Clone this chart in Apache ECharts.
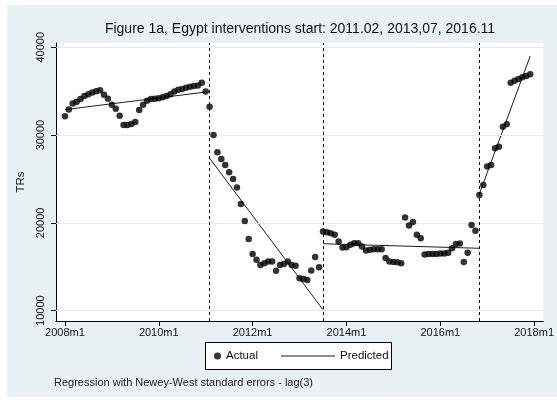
<!DOCTYPE html>
<html>
<head>
<meta charset="utf-8">
<script src="https://cdn.jsdelivr.net/npm/echarts@6/dist/echarts.min.js"></script>
<style>
  html, body { margin: 0; padding: 0; background: #fff; }
  #chart { width: 557px; height: 407px; }
</style>
</head>
<body>
<div id="chart"></div>
<script>
const FONT = 'Liberation Sans, Arial, sans-serif';

// Monthly TRs, one value per month starting 2008m1
const actualPre = [ // 2008m1 – 2011m1
  32150, 32900, 33600, 33800, 34100, 34450, 34650, 34850, 35000, 35100,
  34600, 34150, 33450, 33000, 32200, 31150, 31150, 31250, 31500, 32850,
  33450, 33900, 34100, 34150, 34200, 34300, 34450, 34650, 34950, 35150,
  35250, 35400, 35500, 35600, 35650, 35950, 34950
];
const actualPhase1 = [ // 2011m2 – 2013m6
  33240, 30010, 28040, 27280, 26600, 25770, 25000, 24030, 22150, 20200,
  18150, 16450, 15800, 15200, 15400, 15600, 15600, 14550, 15200, 15300,
  15600, 15200, 15100, 13700, 13600, 13500, 14560, 16100, 14950
];
const actualPhase2 = [ // 2013m7 – 2016m10
  19000, 18940, 18820, 18630, 17870, 17180, 17230, 17490, 17680, 17680,
  17300, 16840, 16920, 17000, 17000, 17000, 15980, 15600, 15550, 15500,
  15400, 20600, 19700, 20100, 18650, 18250, 16400, 16450, 16450, 16450,
  16500, 16500, 16600, 17100, 17600, 17650, 15550, 16600, 19750, 19100
];
const actualPhase3 = [ // 2016m11 – 2017m12
  23180, 24320, 26410, 26600, 28500, 28680, 30960, 31230, 35970, 36200,
  36390, 36580, 36730, 36930
];

// Fitted trend of each regime (month index counted from 2008m1)
const predFromMonth = [0, 37, 66, 106];
const predToMonth   = [36, 66, 106, 119];
const predFromValue = [32900, 27360, 17620, 23300];
const predToValue   = [34900, 10100, 17100, 39000];

// Intervention starts: 2011m2, 2013m7, 2016m11
const interventionMonths = [37, 66, 106];

const xTickMonths = [0, 24, 48, 72, 96, 120];
const xTickLabels = ['2008m1', '2010m1', '2012m1', '2014m1', '2016m1', '2018m1'];
const yTickValues = [10000, 20000, 30000, 40000];

const actual = actualPre.concat(actualPhase1, actualPhase2, actualPhase3);
const actualPoints = actual.map((v, i) => [i, v]);

const predictedSeries = predFromMonth.map((m0, k) => ({
  name: 'Predicted',
  type: 'line',
  data: [[m0, predFromValue[k]], [predToMonth[k], predToValue[k]]],
  symbol: 'none',
  lineStyle: { color: '#1e1e1e', width: 1 },
  itemStyle: { color: '#1e1e1e' },
  z: 4,
  silent: true,
  animation: false
}));

const chart = echarts.init(document.getElementById('chart'), null, { renderer: 'canvas' });

chart.setOption({
  animation: false,
  backgroundColor: '#ffffff',
  textStyle: { fontFamily: FONT },
  graphic: [
    { type: 'rect', shape: { x: 7, y: 5, width: 550, height: 392 },
      style: { fill: '#EAF1F3' }, z: -10, silent: true },
    { type: 'rect', shape: { x: 205.5, y: 342.5, width: 186, height: 27 },
      style: { fill: '#ffffff', stroke: '#000000', lineWidth: 1 }, z: 1, silent: true }
  ],
  title: [
    {
      text: 'Figure 1a, Egypt interventions start: 2011.02, 2013,07, 2016.11',
      left: 300, top: 22, textAlign: 'center', padding: 0,
      textStyle: { fontFamily: FONT, fontSize: 14, fontWeight: 'normal', color: '#111' }
    },
    {
      text: 'Regression with Newey-West standard errors - lag(3)',
      left: 54, top: 377, padding: 0,
      textStyle: { fontFamily: FONT, fontSize: 11, fontWeight: 'normal', color: '#222' }
    }
  ],
  legend: [
    {
      data: [{ name: 'Actual', icon: 'circle' }],
      left: 214, top: 350, padding: 0,
      itemWidth: 7, itemHeight: 7,
      textStyle: { fontFamily: FONT, fontSize: 11.5, color: '#111' },
      selectedMode: false
    },
    {
      data: [{ name: 'Predicted', icon: 'rect', itemStyle: { color: '#1e1e1e' } }],
      left: 281, top: 350, padding: 0,
      itemWidth: 54, itemHeight: 1.2,
      textStyle: { fontFamily: FONT, fontSize: 11.5, color: '#111' },
      selectedMode: false
    }
  ],
  grid: {
    left: 56, top: 43, width: 492, height: 278,
    show: true, backgroundColor: '#ffffff', borderWidth: 0
  },
  xAxis: {
    type: 'value',
    min: -2.28, max: 122.3,
    axisLine: { show: true, onZero: false, lineStyle: { color: '#000', width: 1 } },
    axisTick: { show: true, length: 5, customValues: xTickMonths, lineStyle: { color: '#000' } },
    axisLabel: {
      customValues: xTickMonths,
      margin: 6,
      fontFamily: FONT, fontSize: 11, color: '#111',
      formatter: v => xTickLabels[xTickMonths.indexOf(v)] || ''
    },
    splitLine: { show: false }
  },
  yAxis: {
    type: 'value',
    min: 8815, max: 40490,
    name: 'TRs',
    nameLocation: 'middle',
    nameGap: 29,
    nameTextStyle: { fontFamily: FONT, fontSize: 11.5, color: '#111' },
    axisLine: { show: true, onZero: false, lineStyle: { color: '#000', width: 1 } },
    axisTick: { show: true, length: 5, customValues: yTickValues, lineStyle: { color: '#000' } },
    axisLabel: {
      customValues: yTickValues,
      rotate: 90,
      margin: 10,
      fontFamily: FONT, fontSize: 11, color: '#111',
      formatter: v => String(Math.round(v))
    },
    splitLine: { show: false }
  },
  series: [
    {
      name: 'grid',
      type: 'line',
      data: [],
      silent: true,
      z: 1,
      markLine: {
        silent: true,
        symbol: ['none', 'none'],
        label: { show: false },
        lineStyle: { color: '#E3ECEF', width: 1, type: 'solid' },
        data: yTickValues.map(v => ({ yAxis: v }))
      }
    },
    {
      name: 'Actual',
      type: 'scatter',
      data: actualPoints,
      symbol: 'circle',
      symbolSize: 6.5,
      itemStyle: { color: '#000000' },
      z: 5,
      markLine: {
        silent: true,
        symbol: ['none', 'none'],
        label: { show: false },
        lineStyle: { color: '#000000', width: 1, type: [3, 3] },
        data: interventionMonths.map(m => ({ xAxis: m }))
      }
    }
  ].concat(predictedSeries)
});
</script>
</body>
</html>
